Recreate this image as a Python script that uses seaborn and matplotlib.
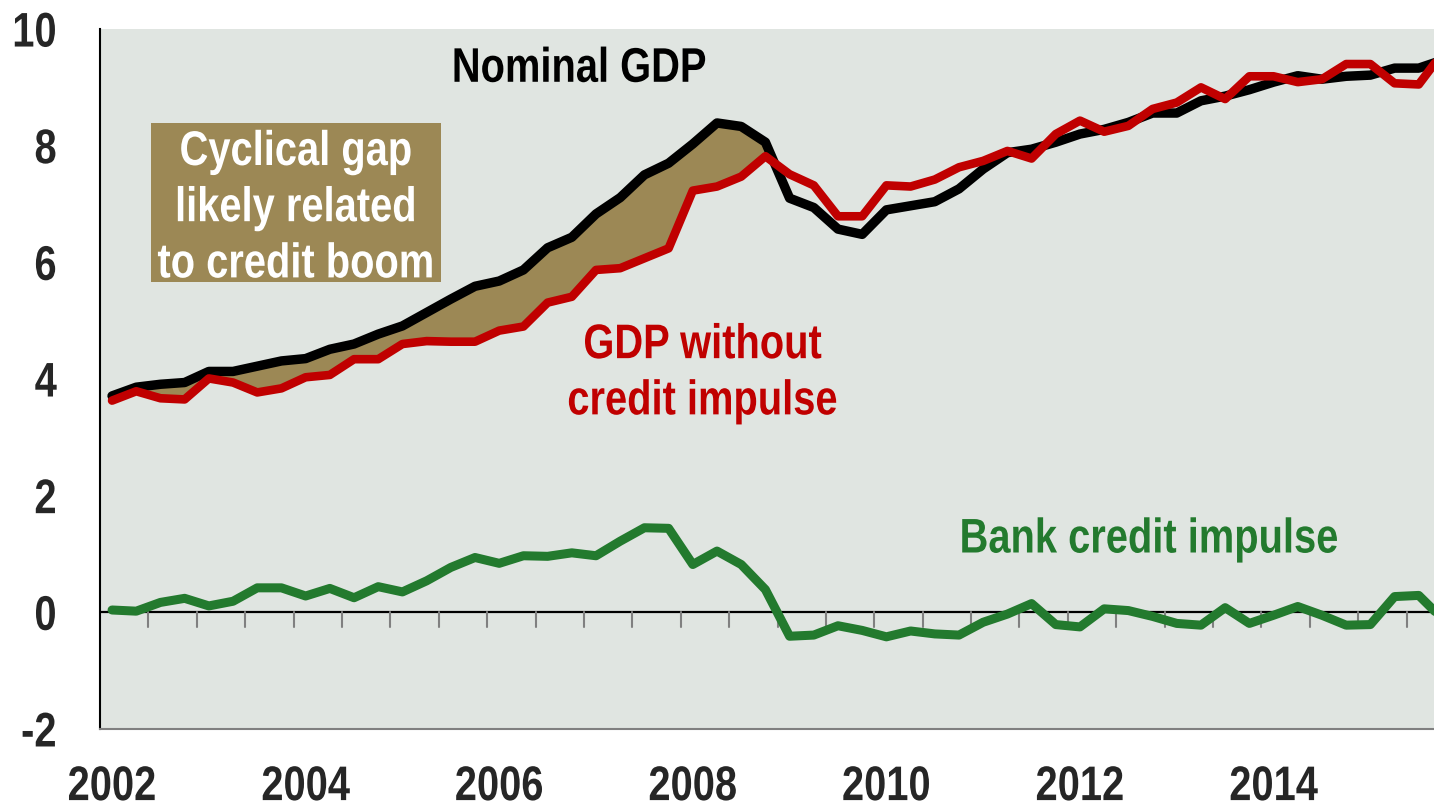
import numpy as np
import pandas as pd
import matplotlib
matplotlib.use("Agg")
import matplotlib.pyplot as plt
import matplotlib.patheffects as pe
from matplotlib.patches import Rectangle
from matplotlib.transforms import Affine2D
import seaborn as sns

# Quarterly data, 2002Q1 onwards (last quarter is partly cut off at the right edge)
nominal_gdp = [3.71, 3.86, 3.91, 3.94, 4.13, 4.13, 4.22, 4.31, 4.35, 4.51, 4.60, 4.77,
               4.91, 5.14, 5.37, 5.59, 5.68, 5.87, 6.25, 6.43, 6.83, 7.11, 7.50, 7.70,
               8.03, 8.39, 8.33, 8.06, 7.10, 6.94, 6.57, 6.48, 6.90, 6.97, 7.04, 7.26,
               7.60, 7.88, 7.94, 8.06, 8.20, 8.28, 8.40, 8.56, 8.56, 8.77, 8.85, 8.96,
               9.09, 9.20, 9.14, 9.19, 9.21, 9.33, 9.33, 9.47]
gdp_ex_credit = [3.63, 3.79, 3.67, 3.65, 4.01, 3.94, 3.77, 3.84, 4.03, 4.07, 4.34, 4.34,
                 4.60, 4.65, 4.64, 4.64, 4.83, 4.90, 5.31, 5.41, 5.87, 5.90, 6.07, 6.24,
                 7.23, 7.30, 7.47, 7.82, 7.51, 7.32, 6.79, 6.79, 7.32, 7.30, 7.42, 7.63,
                 7.74, 7.91, 7.78, 8.20, 8.43, 8.24, 8.34, 8.63, 8.74, 9.00, 8.80, 9.19,
                 9.19, 9.09, 9.14, 9.40, 9.40, 9.07, 9.05, 9.60]
credit_impulse = [0.04, 0.02, 0.17, 0.24, 0.11, 0.19, 0.42, 0.42, 0.28, 0.41, 0.25, 0.44,
                  0.35, 0.54, 0.77, 0.94, 0.84, 0.97, 0.96, 1.02, 0.97, 1.22, 1.45, 1.44,
                  0.82, 1.05, 0.82, 0.39, -0.41, -0.39, -0.23, -0.31, -0.42, -0.32, -0.37, -0.39,
                  -0.17, -0.03, 0.15, -0.21, -0.25, 0.06, 0.03, -0.07, -0.19, -0.22, 0.08, -0.19,
                  -0.05, 0.10, -0.05, -0.22, -0.21, 0.27, 0.29, -0.12]
year_labels = ["2002", "2004", "2006", "2008", "2010", "2012", "2014"]
y_ticks = [-2, 0, 2, 4, 6, 8, 10]

quarters = pd.period_range("2002Q1", periods=len(nominal_gdp), freq="Q")
df = pd.DataFrame({"q": np.arange(len(quarters)),
                   "nominal": nominal_gdp,
                   "ex_credit": gdp_ex_credit,
                   "impulse": credit_impulse})

BLACK, RED, GREEN, GAP = "#000000", "#C00000", "#237A2E", "#9C8855"
BG = "#E0E5E1"
FS = 35


class Squeeze(pe.AbstractPathEffect):
    """Narrow the glyphs horizontally (no condensed font installed)."""
    def __init__(self, sx=0.82, anchor="center"):
        super().__init__()
        self.sx = sx
        self.anchor = anchor

    def draw_path(self, renderer, gc, tpath, affine, rgbFace=None):
        v = affine.transform(tpath.vertices)
        if len(v):
            x0, x1 = v[:, 0].min(), v[:, 0].max()
            cx = {"center": (x0 + x1) / 2, "right": x1, "left": x0}[self.anchor]
            affine = affine + Affine2D().translate(-cx, 0).scale(self.sx, 1).translate(cx, 0)
        renderer.draw_path(gc, tpath, affine, rgbFace)


narrow = [Squeeze(0.82, "center")]

sns.set_style("white")
plt.rcParams["font.family"] = ["Liberation Sans", "DejaVu Sans"]
plt.rcParams["font.weight"] = "bold"

fig = plt.figure(figsize=(14.34, 8.12), dpi=100)
ax = fig.add_axes([0.0697, 0.101, 0.9303, 0.862])
ax.set_facecolor(BG)

# shaded gap up to the 2008 crossing
early = df[df["q"] <= 28]
ax.fill_between(early["q"], early["nominal"], early["ex_credit"],
                where=early["nominal"] >= early["ex_credit"], interpolate=True,
                color=GAP, lw=0, zorder=1)

ax.axhline(0, color="black", lw=1.6, zorder=2)
# half-year tick marks hanging off the zero line
for xt in np.arange(1.5, len(df), 2):
    ax.plot([xt, xt], [0, -0.26], color="#808080", lw=1.5, zorder=2)

sns.lineplot(data=df, x="q", y="impulse", color=GREEN, lw=6.5, ax=ax, zorder=3)
sns.lineplot(data=df, x="q", y="nominal", color=BLACK, lw=6.8, ax=ax, zorder=4)
sns.lineplot(data=df, x="q", y="ex_credit", color=RED, lw=6.2, ax=ax, zorder=5)

ax.set_xlim(-0.5, 54.63)
ax.set_ylim(-2, 10)
ax.set_xlabel("")
ax.set_ylabel("")

ax.set_yticks(y_ticks)
ax.set_yticklabels([str(v) for v in y_ticks], fontsize=FS, fontweight="bold")
ax.tick_params(axis="y", direction="out", length=11, width=1.5, color="#808080", pad=20)
for lbl in ax.get_yticklabels():
    lbl.set_path_effects([Squeeze(0.82, "right")])

ax.set_xticks(np.arange(0, len(year_labels) * 8, 8))
ax.set_xticklabels(year_labels, fontsize=FS, fontweight="bold")
ax.tick_params(axis="x", length=0, pad=26)
for lbl in ax.get_xticklabels():
    lbl.set_path_effects(narrow)

for s in ["top", "right"]:
    ax.spines[s].set_visible(False)
ax.spines["left"].set_color("black")
ax.spines["left"].set_linewidth(1.5)
ax.spines["bottom"].set_color("#808080")
ax.spines["bottom"].set_linewidth(1.5)

ax.text(19.3, 9.31, "Nominal GDP", color=BLACK, fontsize=FS, fontweight="bold",
        ha="center", va="center", zorder=6, path_effects=narrow)

ax.add_patch(Rectangle((0.0382, 0.6386), 0.2174, 0.2271, transform=ax.transAxes,
                       facecolor=GAP, edgecolor="none", zorder=6))
ax.text(7.6, 6.92, "Cyclical gap\nlikely related\nto credit boom", color="white",
        fontsize=FS, fontweight="bold", ha="center", va="center", linespacing=1.32,
        zorder=7, path_effects=narrow)
ax.text(24.4, 4.09, "GDP without\ncredit impulse", color=RED, fontsize=FS,
        fontweight="bold", ha="center", va="center", linespacing=1.32, zorder=6,
        path_effects=narrow)
ax.text(42.85, 1.24, "Bank credit impulse", color=GREEN, fontsize=FS,
        fontweight="bold", ha="center", va="center", zorder=6, path_effects=narrow)

fig.savefig("out.png", dpi=100)
